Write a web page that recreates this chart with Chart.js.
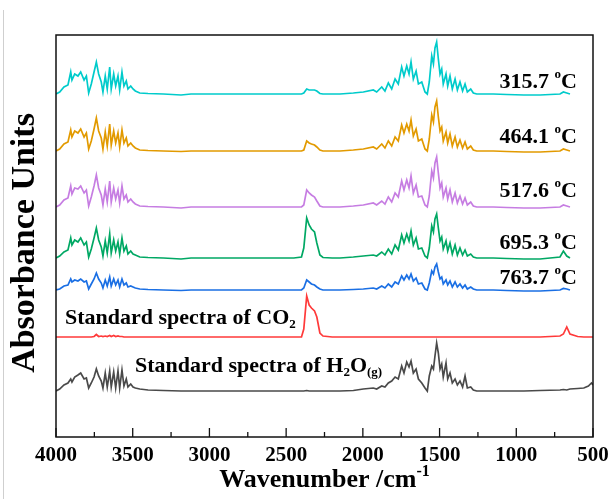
<!DOCTYPE html>
<html>
<head>
<meta charset="utf-8">
<script src="https://cdn.jsdelivr.net/npm/chart.js@4"></script>
<style>
  html, body { margin: 0; padding: 0; background: #fff; }
  #wrap { width: 612px; height: 499px; position: relative; }
</style>
</head>
<body>
<div id="wrap"><canvas id="ftir-chart"></canvas></div>
<script>
// wavenumber grid (cm-1), shared by every spectrum
var wavenumbers = [4000,3976,3948,3922,3904,3896,3878,3857,3839,3817,
  3802,3787,3770,3752,3737,3722,3705,3694,3679,3666,
  3650,3640,3624,3611,3596,3585,3570,3557,3542,3531,
  3513,3498,3483,3454,3400,3300,3185,3120,3000,2800,
  2600,2450,2400,2385,2366,2350,2335,2315,2300,2280,
  2260,2200,2149,2062,1997,1932,1910,1877,1856,1834,
  1812,1790,1769,1747,1732,1714,1699,1686,1671,1653,
  1638,1616,1595,1580,1567,1551,1540,1530,1519,1508,
  1497,1486,1476,1458,1447,1432,1417,1399,1384,1367,
  1350,1334,1319,1297,1280,1258,1150,1062,950,845,
  715,693,671,650,600,560,530,510,500];

// absorbance above each trace's own baseline
var t315 = [0,2,7,9,22,14,20,18,22,14,
  18,1,10,22,32,20,12,2,18,5,
  27,5,20,8,18,4,22,8,13,5,
  8,5,3,1,0.5,0,-1,0,0,0,
  0,0,0,1,5,4,4,4,3,0.5,
  0,0,0,1,2,4,2,7,3,11,
  5,15,10,27,18,28,20,32,15,23,
  10,12,2,0,12,38,30,46,52,35,
  20,25,10,20,8,18,5,15,4,12,
  3,10,2,5,1,0,0,-0.5,-1,-1,
  0,2,1,0,null,null,null,null,null];
var t464 = [0,2,7,9,21,14,20,18,22,14,
  18,2,10,22,33,20,13,2,19,5,
  27,6,20,8,18,4,21,8,13,5,
  8,5,3,1,0.5,0,-0.5,0,0,0,
  0,0,0,1,10,8,7,6,4,1,
  0,0,0,1,2,4,2,7,3,10,
  5,14,10,26,18,27,20,31,15,22,
  10,12,2,0,12,36,29,44,50,34,
  20,24,10,19,8,17,5,14,4,11,
  3,9,2,5,1,0,0,-0.5,-1,-1,
  0,2,1,0,null,null,null,null,null];
var t517 = [0,2,7,9,21,13,19,18,21,14,
  17,1,10,21,32,19,12,2,18,5,
  26,5,19,8,17,4,21,8,12,5,
  8,5,3,1,0.5,0,-1,0,0,0,
  0,0,0,2,17,14,12,10,6,1,
  0,0,0,1,2,4,2,6,3,10,
  5,14,10,26,17,27,19,31,14,22,
  10,11,2,0,11,36,29,44,50,34,
  19,24,10,19,8,17,5,14,4,11,
  3,9,2,5,1,0,0,-0.5,-1,-1,
  0,2,1,0,null,null,null,null,null];
var t695 = [0,2,6,8,20,13,18,16,20,13,
  16,1,9,20,30,18,11,2,17,5,
  24,5,18,7,16,4,20,7,12,4,
  7,4,3,1,0.5,0,-1,0,0,0,
  0,0,1,10,40,33,29,26,15,3,
  0.5,0,0,1,2,3,2,6,3,9,
  4,13,8,23,15,24,17,27,13,20,
  9,10,2,0,10,32,26,39,44,30,
  17,21,9,17,7,15,4,13,3,10,
  3,8,2,4,1,0,0,-0.5,-1,-1,
  1,7,2,0,null,null,null,null,null];
var t763 = [0,1,4,5,11,8,10,9,11,8,
  9,1,6,11,17,11,7,2,10,4,
  13,4,11,5,10,3,11,5,7,3,
  4,3,2,1,0.5,0,-0.5,0,0,0,
  0,0,0,2,10,8,6,5,3,1,
  0,0,0,0.5,1,2,1,4,2,6,
  3,8,6,14,10,15,11,16,9,12,
  6,7,1,0,7,19,16,23,26,18,
  11,13,6,10,5,9,3,8,3,6,
  2,5,1,3,1,0,0,-0.5,-1,-1,
  0,1.5,1,0,null,null,null,null,null];
var co2Std = [0,0,0,0,0,0,0,0,0,0,
  0,0,0,0.5,2.5,0.5,1,0.5,1,0.5,
  1.5,0.5,1.5,0.5,1,0.5,0.5,0,0,0,
  0,0,0,0,0,0,0,0,0,0,
  0,0,0,8,41,32,29,26,20,4,
  1,0,0,0,0,0,0,0,0,0,
  0,0,0,0,0,0,0,0,0,0,
  0,0,0,0,0,0,0,0,0,0,
  0,0,0,0,0,0,0,0,0,0,
  0,0,0,0,0,0,0,0,0,0,
  1,3,10,3,0.5,0,0,0,0];
var h2oStd = [0,2,6,8,12,9,14,16,18,12,
  13,3,8,14,22,15,10,3,18,4,
  20,4,19,3,20,3,21,5,12,4,
  7,4,3,2,1,0.5,0,0,0,0,
  0,0,0,0,0.5,0,0,0,0,0,
  0,0,0,0.5,2,3,2,5,4,8,
  10,14,12,25,18,29,24,30,18,22,
  12,8,3,0,15,25,22,35,48,38,
  22,27,14,28,12,18,8,12,6,10,
  4,15,3,4,1,0,0,0,0,0.5,
  1,1.5,1,2,2.5,3,5,8,6];

var seriesNames = ['315.7', '464.1', '517.6', '695.3', '763.7', 'CO2', 'H2O(g)'];
var seriesValues = [t315, t464, t517, t695, t763, co2Std, h2oStd];
var offsets = [343, 286, 230, 179, 147, 100, 46];
var colors = ['#00CBCB', '#E29A00', '#C67DE2', '#00A864', '#1A6FE4', '#FF3A3A', '#4A4A4A'];
var xTicks = [4000, 3500, 3000, 2500, 2000, 1500, 1000, 500];

var FONT = '"Liberation Serif", "Times New Roman", serif';

var datasets = seriesValues.map(function(vals, i) {
    var pts = [];
    vals.forEach(function(v, k) {
        if (v !== null) pts.push({ x: wavenumbers[k], y: offsets[i] + v });
    });
    return {
        label: seriesNames[i],
        data: pts,
        borderColor: colors[i],
        borderWidth: 1.7,
        pointRadius: 0,
        tension: 0,
        fill: false
    };
});

// draws a string made of normal / superscript / subscript pieces
function richText(ctx, parts, x, y, size, align) {
    var small = Math.round(size * 0.6);
    var total = 0;
    parts.forEach(function(p) {
        ctx.font = 'bold ' + (p.s ? small : size) + 'px ' + FONT;
        p.w = ctx.measureText(p.t).width;
        total += p.w;
    });
    var cx = align === 'right' ? x - total : (align === 'center' ? x - total / 2 : x);
    ctx.textBaseline = 'middle';
    ctx.textAlign = 'left';
    parts.forEach(function(p) {
        ctx.font = 'bold ' + (p.s ? small : size) + 'px ' + FONT;
        var dy = p.s === 'sup' ? -size * 0.33 : (p.s === 'sub' ? size * 0.3 : 0);
        ctx.fillText(p.t, cx, y + dy);
        cx += p.w;
    });
}

var decorations = {
    id: 'decorations',
    afterDraw: function(chart) {
        var ctx = chart.ctx;
        var a = chart.chartArea;
        var xs = chart.scales.x;
        ctx.save();
        // faint outer border line
        ctx.strokeStyle = '#cfcfcf';
        ctx.lineWidth = 1;
        ctx.beginPath();
        ctx.moveTo(3.5, 10);
        ctx.lineTo(3.5, 499);
        ctx.stroke();

        // frame
        ctx.strokeStyle = '#111';
        ctx.lineWidth = 1.5;
        ctx.strokeRect(a.left, a.top, a.right - a.left, a.bottom - a.top);

        // inward ticks on the bottom axis
        ctx.lineWidth = 1.3;
        for (var v = 500; v <= 4000; v += 250) {
            var px = xs.getPixelForValue(v);
            var len = (v % 500 === 0) ? 9 : 5;
            ctx.beginPath();
            ctx.moveTo(px, a.bottom);
            ctx.lineTo(px, a.bottom - len);
            ctx.stroke();
        }

        ctx.fillStyle = '#000';
        // temperature labels
        var ty = [82, 137, 191, 243, 278];
        for (var i = 0; i < 5; i++) {
            richText(ctx, [{ t: seriesNames[i] + ' ' }, { t: 'o', s: 'sup' }, { t: 'C' }], 577, ty[i], 22, 'right');
        }
        richText(ctx, [{ t: 'Standard spectra of CO' }, { t: '2', s: 'sub' }], 65, 318, 22, 'left');
        richText(ctx, [{ t: 'Standard spectra of H' }, { t: '2', s: 'sub' }, { t: 'O' }, { t: '(g)', s: 'sub' }], 135, 366, 22, 'left');

        // axis titles
        richText(ctx, [{ t: 'Wavenumber /cm' }, { t: '-1', s: 'sup' }], (a.left + a.right) / 2, 480, 26, 'center');
        ctx.translate(25, 243);
        ctx.rotate(-Math.PI / 2);
        richText(ctx, [{ t: 'Absorbance Units' }], 0, 0, 34, 'center');
        ctx.restore();
    }
};

var ctxEl = document.getElementById('ftir-chart');
var ftirChart = new Chart(ctxEl, {
    type: 'line',
    data: { datasets: datasets },
    options: {
        responsive: true,
        maintainAspectRatio: false,
        animation: false,
        layout: { padding: { left: 0, right: 19, top: 35, bottom: 0 } },
        plugins: {
            legend: { display: false },
            tooltip: { enabled: false }
        },
        scales: {
            x: {
                type: 'linear',
                reverse: true,
                min: 500,
                max: 4000,
                afterFit: function(s) {
                    s.height = 62;
                    s.paddingLeft = 0;
                    s.paddingRight = 0;
                },
                afterBuildTicks: function(s) {
                    s.ticks = xTicks.map(function(v) { return { value: v }; });
                },
                grid: { display: false, drawTicks: false },
                border: { display: false },
                ticks: {
                    color: '#000',
                    padding: 6,
                    maxRotation: 0,
                    autoSkip: false,
                    font: { family: FONT, size: 21, weight: 'bold' },
                    callback: function(v) { return String(v); }
                }
            },
            y: {
                min: 0,
                max: 402,
                afterFit: function(s) { s.width = 56; },
                grid: { display: false, drawTicks: false },
                border: { display: false },
                ticks: { display: false }
            }
        }
    },
    plugins: [decorations]
});
</script>
</body>
</html>
